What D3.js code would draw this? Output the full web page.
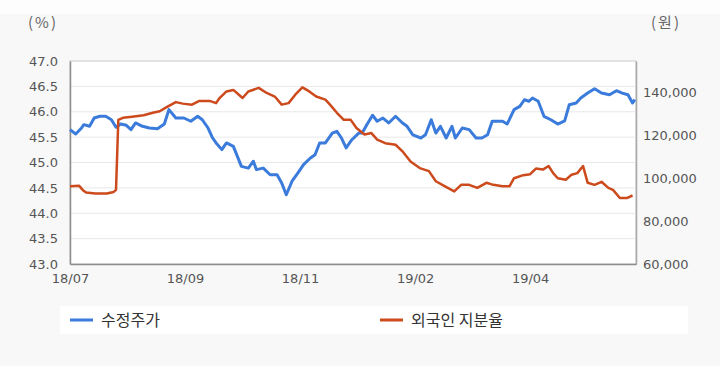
<!DOCTYPE html>
<html>
<head>
<meta charset="utf-8">
<script src="https://cdn.jsdelivr.net/npm/d3@7"></script>
<style>
  body { margin: 0; background: #f8f8f8; }
  svg { display: block; font-family: "Noto Sans CJK KR", "Noto Sans", sans-serif; }
</style>
</head>
<body>
<svg id="chart" width="720" height="366"></svg>
<script>
// trading-day index, value
const priceData = [
  [0,122500],[2.5,120500],[5,123250],[6,124800],[8.5,124050],[10.5,127900],[13,128700],[15.5,128700],
  [18,127100],[20,123600],[22,125100],[24.5,124500],[26.5,122500],[28.5,125600],[31.5,124050],[34.5,123250],
  [38,122900],[41,125100],[43,131800],[46,127900],[49.5,127900],[52.5,126400],[55.5,128700],[57.5,127100],
  [60,123250],[62,118600],[63.5,116300],[66,113200],[68,116300],[71,114700],[74.5,105400],[77.5,104600],
  [79.7,107800],[81,103900],[84,104600],[87,101500],[90,101500],[92,97700],[94,92200],[96.5,98500],
  [99,102300],[101.5,106200],[104.5,109300],[106.5,110800],[108.5,116300],[111,116300],[114,120900],[116,121700],
  [118,118600],[120,114000],[122.5,117800],[125.5,120900],[127,120900],[129,124800],[131.5,129200],[133.5,126400],
  [136,127900],[138.5,125600],[141.5,128700],[144.5,125600],[146.5,124050],[149,120100],[152.5,118600],[154.5,120100],
  [157,127100],[159,120900],[161,124050],[163.5,118600],[166,124050],[167.5,118600],[170.5,123250],[173.5,122500],
  [176.5,118600],[179,118600],[181.5,120100],[183.5,126400],[186.5,126400],[188,126400],[190,125100],[193,131800],
  [195.5,133300],[197.5,136400],[199.5,135700],[201,137200],[203.5,135700],[206,128700],[209,127100],[212,125100],
  [215,126600],[217,134100],[220,134900],[222,137200],[225,139500],[228,141500],[231,139500],[234.5,138700],
  [237.5,140600],[240,139500],[242.5,138700],[244.5,134900],[245.5,136400]
];

const foreignData = [
  [0,44.53],[4,44.54],[5.5,44.46],[7,44.41],[11,44.39],[16,44.39],[19,44.42],[20,44.46],
  [21,45.84],[23,45.88],[27,45.90],[32,45.93],[36,45.98],[39,46.01],[42,46.09],[46,46.19],
  [49,46.16],[53,46.14],[56,46.21],[61,46.21],[63.5,46.17],[65,46.27],[68,46.40],[71,46.43],
  [75,46.27],[77.5,46.40],[82,46.47],[85.5,46.37],[89,46.30],[92,46.14],[95,46.17],[98,46.34],
  [101,46.48],[104,46.40],[107,46.30],[111,46.24],[113,46.14],[116,45.98],[119,45.84],[122,45.84],
  [124.5,45.68],[128,45.55],[131,45.58],[133.5,45.45],[137,45.38],[141.5,45.35],[144.5,45.22],[148,45.02],
  [152,44.89],[156,44.83],[159,44.63],[163,44.53],[167,44.43],[170,44.56],[173.5,44.56],[177,44.50],
  [181,44.60],[184,44.56],[188,44.53],[191,44.53],[193,44.69],[197,44.75],[200,44.77],[202.5,44.88],
  [205.5,44.86],[208,44.93],[210,44.79],[212,44.69],[215.5,44.66],[218,44.76],[220.5,44.79],[223,44.93],
  [225,44.60],[228,44.56],[231,44.62],[234,44.50],[236,44.46],[239,44.30],[242,44.30],[244.5,44.35]
];

const xTickIdx = [0, 50, 100, 150, 200];
const xTickLabels = ["18/07", "18/09", "18/11", "19/02", "19/04"];
const leftTicks = [43.0, 43.5, 44.0, 44.5, 45.0, 45.5, 46.0, 46.5, 47.0];
const rightTicks = [60000, 80000, 100000, 120000, 140000];
const seriesNames = ["수정주가", "외국인 지분율"];
const colors = ["#3a7bdb", "#cc4a1c"];

const svg = d3.select("#chart");
const m = { left: 70, right: 636, top: 61, bottom: 264 };

svg.append("rect").attr("width", 720).attr("height", 14).attr("fill", "#fdfdfd");

const x = d3.scaleLinear().domain([0, 246]).range([m.left, m.right]);
const yL = d3.scaleLinear().domain([43, 47]).range([m.bottom, m.top]);
const yR = d3.scaleLinear().domain([60000, 60000 + (m.bottom - m.top) / 43 * 20000]).range([m.bottom, m.top]);

svg.append("rect")
  .attr("x", m.left).attr("y", m.top)
  .attr("width", m.right - m.left).attr("height", m.bottom - m.top)
  .attr("fill", "#fff").attr("stroke", "#c8c8c8");

// grid
svg.append("g")
  .selectAll("line")
  .data(leftTicks.slice(1, -1))
  .join("line")
  .attr("x1", m.left).attr("x2", m.right)
  .attr("y1", d => yL(d)).attr("y2", d => yL(d))
  .attr("stroke", "#e8e8e8");

// left axis
const gL = svg.append("g")
  .attr("transform", `translate(${m.left},0)`)
  .call(d3.axisLeft(yL).tickValues(leftTicks).tickFormat(d3.format(".1f")).tickSize(0).tickPadding(12));
gL.select(".domain").attr("stroke", "#8c8c8c").attr("stroke-width", 1.5);

// right axis
const gR = svg.append("g")
  .attr("transform", `translate(${m.right},0)`)
  .call(d3.axisRight(yR).tickValues(rightTicks).tickFormat(d3.format(",")).tickSize(0).tickPadding(7));
gR.select(".domain").attr("stroke", "#a8a8a8").attr("stroke-width", 1.5);

// bottom axis
const gB = svg.append("g")
  .attr("transform", `translate(0,${m.bottom})`)
  .call(d3.axisBottom(x).tickValues(xTickIdx).tickFormat((d, i) => xTickLabels[i]).tickSize(0).tickPadding(10));
gB.select(".domain").attr("stroke", "#8c8c8c").attr("stroke-width", 1.5);

svg.selectAll(".tick text").attr("fill", "#555").style("font-size", "13px")
  .style("font-family", "'DejaVu Sans', sans-serif");

// unit labels
svg.append("text").attr("x", 43).attr("y", 28).attr("text-anchor", "middle")
  .attr("fill", "#666").style("font-size", "15px").style("letter-spacing", "2px").text("(%)");
svg.append("text").attr("x", 666).attr("y", 28).attr("text-anchor", "middle")
  .attr("fill", "#666").style("font-size", "15px").style("letter-spacing", "2px").text("(원)");

// lines
const linePrice = d3.line().x(d => x(d[0])).y(d => yR(d[1]));
const lineForeign = d3.line().x(d => x(d[0])).y(d => yL(d[1]));

svg.append("path").datum(priceData)
  .attr("fill", "none").attr("stroke", colors[0]).attr("stroke-width", 3)
  .attr("stroke-linejoin", "round").attr("d", linePrice);
svg.append("path").datum(foreignData)
  .attr("fill", "none").attr("stroke", colors[1]).attr("stroke-width", 2.5)
  .attr("stroke-linejoin", "round").attr("d", lineForeign);

// legend
svg.append("rect").attr("x", 60).attr("y", 306).attr("width", 628).attr("height", 28).attr("fill", "#fff");
const lg = svg.append("g").selectAll("g")
  .data(seriesNames)
  .join("g")
  .attr("transform", (d, i) => `translate(${i === 0 ? 70 : 380},320)`);
lg.append("line").attr("x1", 0).attr("x2", 23)
  .attr("stroke", (d, i) => colors[i]).attr("stroke-width", 3);
lg.append("text").attr("x", 31).attr("y", 6)
  .attr("fill", "#333").style("font-size", "16px").text(d => d);
</script>
</body>
</html>
